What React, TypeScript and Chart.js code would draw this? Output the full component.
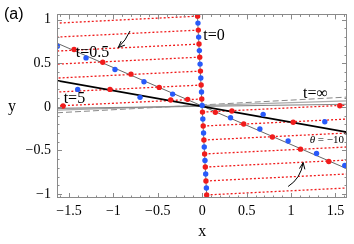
import React, { useEffect, useRef } from "react";
import { Chart, registerables } from "chart.js";
Chart.register(...registerables);

// axis ranges and tick labels
const X_MIN = -1.635;
const X_MAX = 1.63;
const Y_MIN = -1.045;
const Y_MAX = 1.06;
const xTicks = [-1.5, -1, -0.5, 0, 0.5, 1, 1.5];
const yTicks = [-1, -0.5, 0, 0.5, 1];

// t = 0 points (on the nearly vertical line)
const t0RedX = [-0.052, -0.044, -0.036, -0.028, -0.02, -0.012, -0.005, 0.003, 0.011, 0.019, 0.027, 0.035, 0.042, 0.05];
const t0RedY = [1.04, 0.88, 0.72, 0.57, 0.41, 0.25, 0.09, -0.06, -0.22, -0.38, -0.54, -0.69, -0.85, -1.01];
const t0BlueX = [-0.048, -0.04, -0.032, -0.024, -0.016, -0.008, -0.001, 0.007, 0.015, 0.023, 0.031, 0.039, 0.047];
const t0BlueY = [0.96, 0.8, 0.645, 0.49, 0.33, 0.17, 0.015, -0.14, -0.3, -0.46, -0.615, -0.77, -0.93];

// dotted trajectories: from each red t=0 point to the frame edge
const trajEndX = [-1.635, -1.635, -1.635, -1.635, -1.635, -1.635, -1.635, 1.63, 1.63, 1.63, 1.63, 1.63, 1.63, 1.63];
const trajEndY = [0.96, 0.8, 0.64, 0.49, 0.33, 0.17, 0.01, 0.02, -0.14, -0.3, -0.46, -0.61, -0.77, -0.93];

// t = 0.5 points
const t05RedX = [-1.443, -1.12, -0.802, -0.484, -0.164, 0.148, 0.467, 0.79, 1.107, 1.425];
const t05RedY = [0.657, 0.512, 0.375, 0.223, 0.086, -0.063, -0.197, -0.345, -0.485, -0.627];
const t05BlueX = [-1.631, -1.308, -0.982, -0.656, -0.333, 0.319, 0.649, 0.967, 1.287, 1.605];
const t05BlueY = [0.695, 0.561, 0.429, 0.287, 0.146, -0.125, -0.254, -0.391, -0.534, -0.671];

// points near the theta = -10° line
const midRedX = [-1.038, -0.355, 0.334, 1.024];
const midRedY = [0.2, 0.078, -0.048, -0.177];
const midBlueX = [-1.402, -0.7, 0.686, 1.38];
const midBlueY = [0.2, 0.109, -0.086, -0.17];

// t = 5 points
const t5RedX = [-1.567, 1.549];
const t5RedY = [0.01, 0.012];

// reference lines (endpoints)
const lineT0X = [-0.055, 0.052];
const lineT0Y = [1.06, -1.045];
const lineT05X = [-1.635, 1.63];
const lineT05Y = [0.73, -0.71];
const lineThetaX = [-1.635, 1.63];
const lineThetaY = [0.3, -0.29];
const lineInfAX = [-1.635, 1.63];
const lineInfAY = [-0.018, 0.03];
const lineInfBX = [-1.635, 1.63];
const lineInfBY = [-0.038, 0.068];
const lineInfDashX = [-1.635, 1.63];
const lineInfDashY = [-0.068, 0.112];

const RED = "rgb(240,28,28)";
const BLUE = "rgb(40,90,250)";
const SERIF = '"Liberation Serif", "Times New Roman", serif';

const pts = (xs: number[], ys: number[]) => xs.map((x, i) => ({ x, y: ys[i] }));

const fmt = (v: number) => (v < 0 ? "\u2212" + String(Math.abs(v)) : String(v));

function drawArrow(ctx: CanvasRenderingContext2D, p0: number[], c: number[], p1: number[]) {
  ctx.beginPath();
  ctx.moveTo(p0[0], p0[1]);
  ctx.quadraticCurveTo(c[0], c[1], p1[0], p1[1]);
  ctx.stroke();
  const ang = Math.atan2(p1[1] - c[1], p1[0] - c[0]);
  const L = 7;
  const s = 0.4;
  ctx.beginPath();
  ctx.moveTo(p1[0] - L * Math.cos(ang - s), p1[1] - L * Math.sin(ang - s));
  ctx.lineTo(p1[0], p1[1]);
  ctx.lineTo(p1[0] - L * Math.cos(ang + s), p1[1] - L * Math.sin(ang + s));
  ctx.stroke();
}

const overlay = {
  id: "overlay",
  afterDatasetsDraw(chart: any) {
    const { ctx, chartArea: a, scales } = chart;
    const sx = scales.x;
    const sy = scales.y;
    const X = (v: number) => sx.getPixelForValue(v);
    const Y = (v: number) => sy.getPixelForValue(v);
    ctx.save();
    // frame
    ctx.strokeStyle = "#8a8a8a";
    ctx.lineWidth = 1;
    ctx.strokeRect(Math.round(a.left) + 0.5, Math.round(a.top) + 0.5, Math.round(a.right - a.left) - 1, Math.round(a.bottom - a.top) - 1);
    // ticks (inward)
    ctx.beginPath();
    for (let k = -16; k <= 16; k++) {
      const v = k / 10;
      const len = k % 5 === 0 ? 5 : 2.5;
      const px = Math.round(X(v)) + 0.5;
      if (px < a.left || px > a.right) continue;
      ctx.moveTo(px, a.bottom);
      ctx.lineTo(px, a.bottom - len);
      ctx.moveTo(px, a.top);
      ctx.lineTo(px, a.top + len);
    }
    for (let k = -10; k <= 10; k++) {
      const v = k / 10;
      const len = k % 5 === 0 ? 5 : 2.5;
      const py = Math.round(Y(v)) + 0.5;
      if (py < a.top || py > a.bottom) continue;
      ctx.moveTo(a.left, py);
      ctx.lineTo(a.left + len, py);
      ctx.moveTo(a.right, py);
      ctx.lineTo(a.right - len, py);
    }
    ctx.stroke();

    // labels
    ctx.fillStyle = "#000";
    ctx.textBaseline = "middle";
    ctx.textAlign = "left";
    ctx.font = "16px " + SERIF;
    ctx.fillText("t=0.5", X(-1.424), Y(0.62));
    ctx.fillText("t=0", X(0.011), Y(0.82));
    ctx.fillText("t=5", X(-1.56), Y(0.089));
    ctx.fillText("t=\u221E", X(1.136), Y(0.154));
    // theta label
    let tx = X(1.21);
    const ty = Y(-0.38);
    ctx.font = "italic 11px " + SERIF;
    ctx.fillText("\u03B8", tx, ty);
    tx += ctx.measureText("\u03B8").width;
    ctx.font = "11px " + SERIF;
    ctx.fillText(" = \u221210", tx, ty);
    tx += ctx.measureText(" = \u221210").width;
    ctx.font = "8px " + SERIF;
    ctx.fillText("\u00B0", tx, ty - 4);

    // arrows
    ctx.strokeStyle = "#000";
    ctx.lineWidth = 1;
    drawArrow(ctx, [X(-0.813), Y(0.87)], [X(-0.86), Y(0.76)], [X(-0.945), Y(0.68)]);
    drawArrow(ctx, [X(0.967), Y(-0.913)], [X(1.11), Y(-0.82)], [X(1.136), Y(-0.639)]);

    // axis titles and panel label
    ctx.textAlign = "center";
    ctx.font = "16px " + SERIF;
    ctx.fillText("x", X(0), 232);
    ctx.fillText("y", 12, Y(0));
    ctx.textAlign = "left";
    ctx.font = '16px "Liberation Sans", Arial, sans-serif';
    ctx.fillText("(a)", 4, 15);
    ctx.restore();
  },
};

export default function App() {
  const ref = useRef<HTMLCanvasElement | null>(null);
  useEffect(() => {
    if (!ref.current) return;
    const dot = (xs: number[], ys: number[], color: string) => ({
      data: pts(xs, ys),
      showLine: false,
      pointRadius: 2.7,
      pointBackgroundColor: color,
      pointBorderWidth: 0,
      backgroundColor: color,
      borderColor: color,
    });
    const line = (xs: number[], ys: number[], color: string, width: number, dash: number[] = []) => ({
      data: pts(xs, ys),
      showLine: true,
      pointRadius: 0,
      borderColor: color,
      borderWidth: width,
      borderDash: dash,
      backgroundColor: color,
    });
    const trajectories = t0RedX.map((x0, i) =>
      line([x0, trajEndX[i]], [t0RedY[i], trajEndY[i]], RED, 1.3, [2, 2])
    );
    const datasets: any[] = [
      dot(t0RedX, t0RedY, RED),
      dot(t0BlueX, t0BlueY, BLUE),
      dot(t05RedX, t05RedY, RED),
      dot(t05BlueX, t05BlueY, BLUE),
      dot(midRedX, midRedY, RED),
      dot(midBlueX, midBlueY, BLUE),
      dot(t5RedX, t5RedY, RED),
      line(lineThetaX, lineThetaY, "#000", 1.8),
      line(lineT05X, lineT05Y, "#555", 0.9),
      line(lineT0X, lineT0Y, "#777", 1),
      line(lineInfAX, lineInfAY, "#888", 1.2),
      line(lineInfBX, lineInfBY, "#aaa", 1.2),
      line(lineInfDashX, lineInfDashY, "#888", 1, [6, 3]),
      ...trajectories,
    ];
    const chart = new Chart(ref.current, {
      type: "scatter",
      data: { datasets },
      options: {
        animation: false,
        responsive: false,
        devicePixelRatio: 1,
        layout: { padding: { left: 0, right: 7, top: 14, bottom: 0 } },
        plugins: { legend: { display: false }, tooltip: { enabled: false } },
        scales: {
          x: {
            type: "linear",
            min: X_MIN,
            max: X_MAX,
            afterFit: (s: any) => {
              s.height = 46;
            },
            afterBuildTicks: (s: any) => {
              s.ticks = xTicks.map((v) => ({ value: v }));
            },
            grid: { display: false, drawTicks: false },
            border: { display: false },
            ticks: {
              font: { family: SERIF, size: 14 },
              color: "#000",
              padding: 5,
              maxRotation: 0,
              autoSkip: false,
              callback: (v: any) => fmt(Number(v)),
            },
          },
          y: {
            type: "linear",
            min: Y_MIN,
            max: Y_MAX,
            afterFit: (s: any) => {
              s.width = 57;
            },
            afterBuildTicks: (s: any) => {
              s.ticks = yTicks.map((v) => ({ value: v }));
            },
            grid: { display: false, drawTicks: false },
            border: { display: false },
            ticks: {
              font: { family: SERIF, size: 14 },
              color: "#000",
              padding: 6,
              autoSkip: false,
              callback: (v: any) => fmt(Number(v)),
            },
          },
        },
      },
      plugins: [overlay as any],
    });
    return () => chart.destroy();
  }, []);
  return (
    <div style={{ position: "absolute", left: 0, top: 0, width: 354, height: 244, background: "#fff" }}>
      <canvas ref={ref} width={354} height={244} style={{ display: "block" }} />
    </div>
  );
}
